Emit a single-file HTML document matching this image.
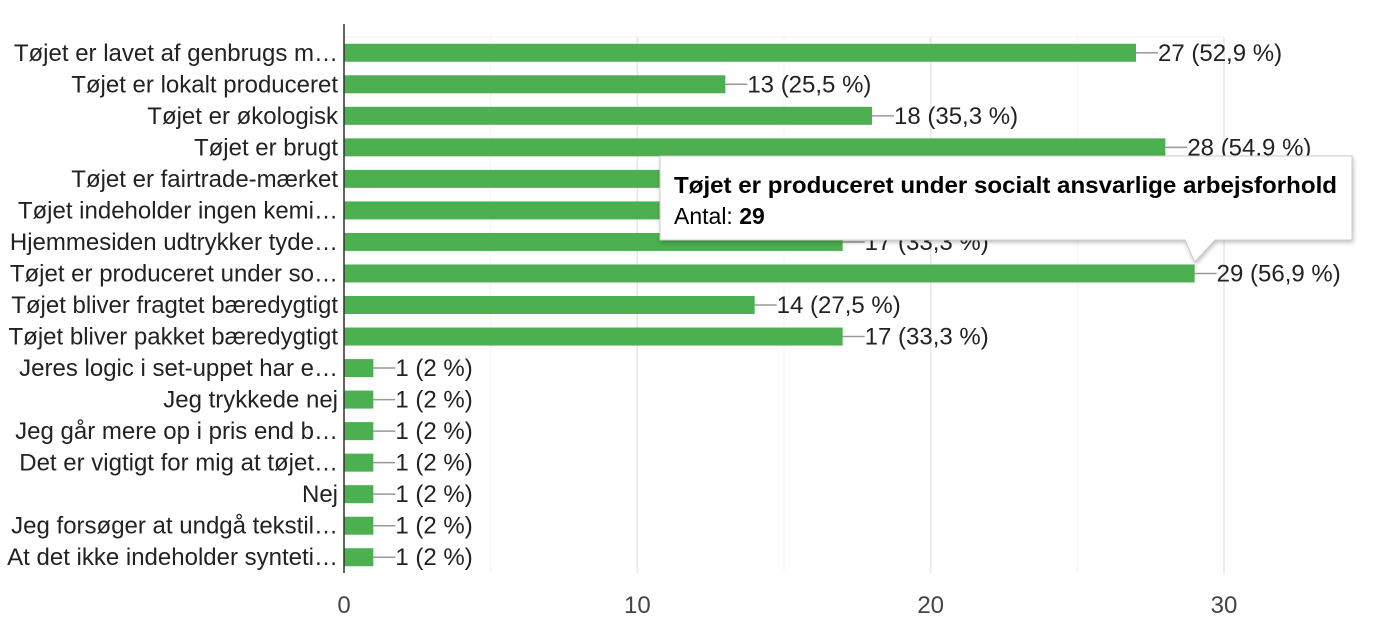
<!DOCTYPE html>
<html><head><meta charset="utf-8"><style>
body{margin:0;background:#fff;width:1381px;height:637px;overflow:hidden;font-family:"Liberation Sans",Arial,sans-serif}
svg{display:block}
</style></head><body>
<svg id="chart" width="1381" height="637"></svg>
<script>
const categories=["Tøjet er lavet af genbrugs m…","Tøjet er lokalt produceret","Tøjet er økologisk","Tøjet er brugt","Tøjet er fairtrade-mærket","Tøjet indeholder ingen kemi…","Hjemmesiden udtrykker tyde…","Tøjet er produceret under so…","Tøjet bliver fragtet bæredygtigt","Tøjet bliver pakket bæredygtigt","Jeres logic i set-uppet har e…","Jeg trykkede nej","Jeg går mere op i pris end b…","Det er vigtigt for mig at tøjet…","Nej","Jeg forsøger at undgå tekstil…","At det ikke indeholder synteti…"];
const values=[27,13,18,28,20,16,17,29,14,17,1,1,1,1,1,1,1];
const percents=["52,9","25,5","35,3","54,9","39,2","31,4","33,3","56,9","27,5","33,3","2","2","2","2","2","2","2"];
const ticks=[0,10,20,30];
const minorTicks=[5,15,25];
const NS="http://www.w3.org/2000/svg";
const svg=document.getElementById('chart');
const X0=344,X1=1224,Y0=37,Y1=573,MAX=30,FS=24;
const xs=v=>X0+(X1-X0)*v/MAX;
const band=(Y1-Y0)/categories.length;
const yc=i=>Y0+band*(i+0.5);
function mk(t,a,txt){const e=document.createElementNS(NS,t);for(const k in a)e.setAttribute(k,a[k]);if(txt!==undefined)e.textContent=txt;svg.appendChild(e);return e;}
minorTicks.forEach(t=>{const l=mk('line',{x1:xs(t),x2:xs(t),y1:Y0,y2:Y1,stroke:'#f3f3f3','stroke-width':1});

});
ticks.forEach(t=>{const l=mk('line',{x1:xs(t),x2:xs(t),y1:Y0,y2:Y1,stroke:'#e6e6e6','stroke-width':1.5});


const tx=mk('text',{x:xs(t),y:613,'text-anchor':'middle','font-size':FS,fill:'#444'},t);

});
mk('line',{x1:X0,x2:X1,y1:Y0,y2:Y0,stroke:'#f0f0f0'});
categories.forEach((c,i)=>{const y=yc(i);
const lab=mk('text',{x:338,y:y+8,'text-anchor':'end','font-size':FS,fill:'#222'},c);


const r=mk('rect',{x:X0,y:y-9,width:xs(values[i])-X0,height:18,fill:'#4caf50'});


const e=xs(values[i]);
mk('line',{x1:e,x2:e+22,y1:y,y2:y,stroke:'#999','stroke-width':1.5});
const v=mk('text',{x:e+22,y:y+8,'font-size':FS,fill:'#222'},values[i]+' ('+percents[i]+' %)');

});
const ax=mk('line',{x1:X0,x2:X0,y1:24,y2:573,stroke:'#333','stroke-width':1.5});


const hi=7;const hx=xs(values[hi]);
const g=document.createElementNS(NS,'g');svg.appendChild(g);


const p=document.createElementNS(NS,'path');
p.setAttribute('d',`M660 156 H1352 V240 H1215 L${hx} 262 L1185 240 H660 Z`);
p.setAttribute('fill','#fff');p.setAttribute('stroke','#ccc');p.setAttribute('stroke-width','1');
p.setAttribute('style','filter:drop-shadow(1px 2px 2px rgba(0,0,0,0.25))');g.appendChild(p);
const t1=document.createElementNS(NS,'text');t1.setAttribute('x',674);t1.setAttribute('y',193);t1.setAttribute('font-size',23);t1.setAttribute('font-weight','bold');t1.setAttribute('textLength',663);t1.setAttribute('lengthAdjust','spacingAndGlyphs');t1.textContent='Tøjet er produceret under socialt ansvarlige arbejsforhold';g.appendChild(t1);
const t2=document.createElementNS(NS,'text');t2.setAttribute('x',674);t2.setAttribute('y',224);t2.setAttribute('font-size',23);t2.innerHTML='Antal: <tspan font-weight="bold">'+values[hi]+'</tspan>';g.appendChild(t2);
</script>
</body></html>
